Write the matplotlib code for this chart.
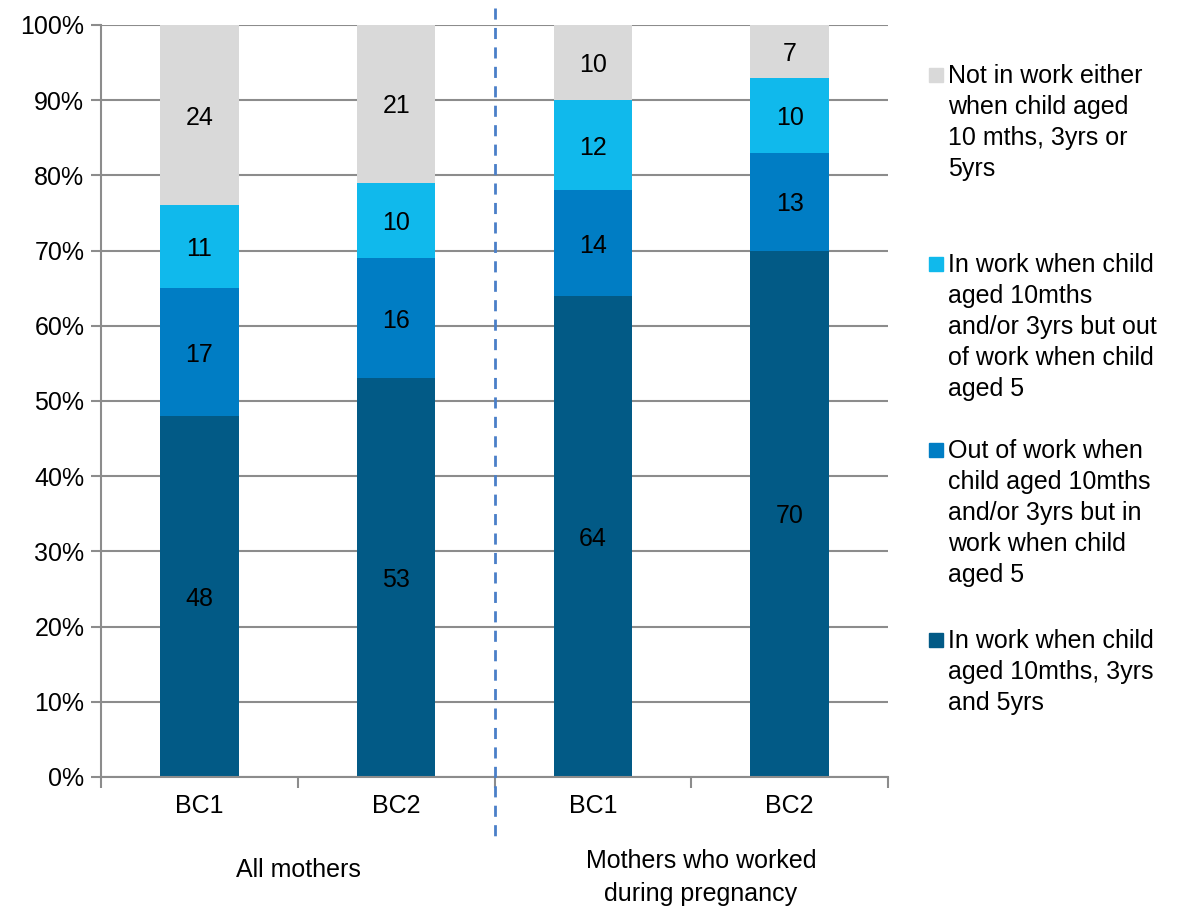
import matplotlib
matplotlib.use('agg')
import matplotlib.pyplot as plt
import matplotlib.transforms as mtransforms
from matplotlib.patches import Rectangle
import numpy as np

plt.rcParams['font.family'] = ['Liberation Sans', 'DejaVu Sans']

# cohort / group data
bar_labels = ['BC1', 'BC2', 'BC1', 'BC2']
group_labels = ['All mothers', 'Mothers who worked\nduring pregnancy']

in_work_all = [48, 53, 64, 70]
in_work_at_5 = [17, 16, 14, 13]
out_at_5 = [11, 10, 12, 10]
never_in_work = [24, 21, 10, 7]

series = [in_work_all, in_work_at_5, out_at_5, never_in_work]
series_names = [
    'In work when child\naged 10mths, 3yrs\nand 5yrs',
    'Out of work when\nchild aged 10mths\nand/or 3yrs but in\nwork when child\naged 5',
    'In work when child\naged 10mths\nand/or 3yrs but out\nof work when child\naged 5',
    'Not in work either\nwhen child aged\n10 mths, 3yrs or\n5yrs',
]
colors = ['#025a86', '#007dc4', '#10b9ec', '#d9d9d9']

FS = 18
W, H = 1179, 907

fig = plt.figure(figsize=(W / 100, H / 100), dpi=100)
ax = fig.add_axes([101 / W, 1 - 777 / H, 787 / W, 752 / H])

x = np.arange(len(bar_labels))
bottom = np.zeros(len(bar_labels))
for vals, col in zip(series, colors):
    vals = np.array(vals, dtype=float)
    ax.bar(x, vals, 0.4, bottom=bottom, color=col, zorder=2)
    for xi, b, v in zip(x, bottom, vals):
        ax.text(xi, b + v / 2, f'{v:.0f}', ha='center', va='center_baseline',
                fontsize=FS, color='black', zorder=3)
    bottom += vals

ax.set_xlim(-0.5, 3.5)
ax.set_ylim(0, 100)
ax.set_yticks(np.arange(0, 101, 10))
ax.set_yticklabels([f'{t}%' for t in range(0, 101, 10)], fontsize=FS)
ax.yaxis.grid(True, color='#8c8c8c', linewidth=1.5, zorder=0)
ax.set_axisbelow(True)

ax.set_xticks(x)
ax.set_xticklabels(bar_labels, fontsize=FS)
ax.tick_params(axis='x', which='major', length=0, pad=12)
ax.set_xticks(np.arange(-0.5, 4, 1), minor=True)
ax.tick_params(axis='x', which='minor', length=8, width=1.5, color='#8c8c8c')
ax.tick_params(axis='y', length=7, width=1.5, color='#8c8c8c', pad=5)

for s in ['top', 'right']:
    ax.spines[s].set_visible(False)
for s in ['left', 'bottom']:
    ax.spines[s].set_color('#8c8c8c')
    ax.spines[s].set_linewidth(1.5)

# divider between the two groups
trans = mtransforms.blended_transform_factory(ax.transData, ax.transAxes)
ax.plot([1.5, 1.5], [1.023, -0.087], transform=trans, clip_on=False,
        color='#4a7fc8', linestyle=(0, (4, 3)), linewidth=2, zorder=4)


def text_lines(x0, baseline, text, step, ha):
    for k, line in enumerate(text.split('\n')):
        fig.text(x0 / W, 1 - (baseline + k * step) / H, line, ha=ha,
                 va='baseline', fontsize=FS)


# group labels under the axis
text_lines(298, 877, group_labels[0], 33, 'center')
text_lines(701, 868, group_labels[1], 33, 'center')

# legend, top entry is the last series
legend_baselines = [648, 458, 272, 83]
for name, col, base in zip(series_names, colors, legend_baselines):
    fig.patches.append(Rectangle((929 / W, 1 - (base - 1) / H), 14 / W, 14 / H,
                                 transform=fig.transFigure, color=col))
    text_lines(948, base, name, 31, 'left')

fig.savefig('out.png', dpi=100)
